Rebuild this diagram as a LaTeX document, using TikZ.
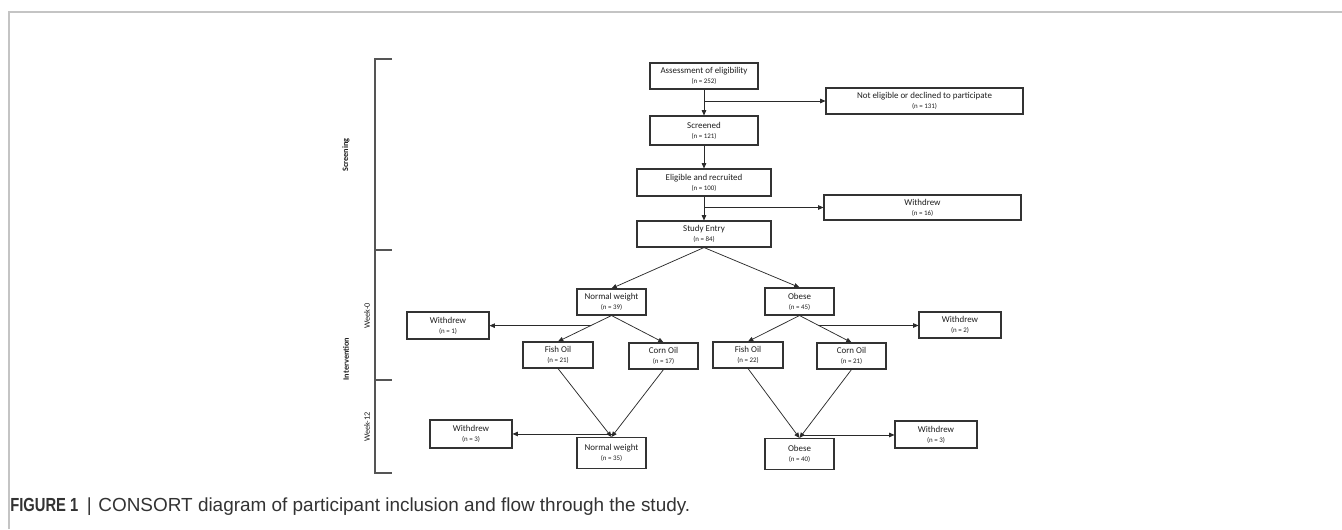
\documentclass[tikz,border=0pt]{standalone}
\usepackage{fontspec}
\setmainfont{Carlito}
\newfontfamily\capfont{Liberation Sans}
\usetikzlibrary{arrows.meta,calc}
\definecolor{boxc}{HTML}{333333}
\definecolor{linec}{HTML}{2A2A2A}
\definecolor{txtc}{HTML}{1E1E1E}
\definecolor{brkc}{HTML}{555555}
\definecolor{framec}{HTML}{C4C4C4}
\definecolor{capc}{HTML}{333333}
\newcommand\bt[2]{#1\\{\fontsize{5.2}{7.6}\selectfont (n = #2)}}
\begin{document}
\begin{tikzpicture}[x=0.75pt,y=-0.75pt,
  bx/.style 2 args={draw=boxc, line width=0.8pt, fill=white, inner sep=0pt, align=center, text=txtc,
     font=\fontsize{6.7}{7.6}\selectfont,
     minimum width=#1*0.75pt, minimum height=#2*0.75pt},
  arr/.style={draw=linec, line width=0.55pt, -{Triangle[length=4pt,width=3.4pt]}},
  brk/.style={draw=brkc, line width=0.9pt},
  sidelab/.style={rotate=90, inner sep=0pt, text=txtc, font=\fontsize{6.2}{7}\selectfont},
  sideboldlab/.style={sidelab, font=\bfseries\fontsize{6.2}{7}\selectfont},
]
\useasboundingbox (0,0) rectangle (1342,529);
\fill[white] (0,0) rectangle (1342,529);
% frame
\draw[framec, line width=1.1pt] (9,529) -- (9,12) -- (1342,12);

% bracket
\draw[brk] (392,59) -- (375,59) -- (375,473) -- (392,473);
\draw[brk] (375,250) -- (392,250);
\draw[brk] (375,380) -- (392,380);
\node[sideboldlab] (lscr) at (346,155) {Screening};
\node[sideboldlab] (lint) at (346,359) {Intervention};
\node[sidelab] (lw0) at (367,316) {Week-0};
\node[sidelab] (lw12) at (367,427) {Week-12};

% boxes
\node[bx={108}{26}] (assess) at (704,76) {\bt{Assessment of eligibility}{252}};
\node[bx={197}{26}] (ne) at (924.5,101) {\bt{Not eligible or declined to participate}{131}};
\node[bx={108}{29}] (scr) at (704,130.5) {\bt{Screened}{121}};
\node[bx={134}{27}] (elig) at (704,182.5) {\bt{Eligible and recruited}{100}};
\node[bx={197}{25}] (wd16) at (922.5,207.5) {\bt{Withdrew}{16}};
\node[bx={134}{26}] (entry) at (704,234) {\bt{Study Entry}{84}};
\node[bx={69}{26}] (nw) at (611.5,302) {\bt{Normal weight}{39}};
\node[bx={69}{27}] (ob) at (799.5,301.5) {\bt{Obese}{45}};
\node[bx={82}{27}] (wd1) at (448,325.5) {\bt{Withdrew}{1}};
\node[bx={82}{26}] (wd2) at (960,325) {\bt{Withdrew}{2}};
\node[bx={70}{26}] (fo1) at (558,355) {\bt{Fish Oil}{21}};
\node[bx={69}{26}] (co1) at (663.5,356) {\bt{Corn Oil}{17}};
\node[bx={70}{26}] (fo2) at (748,355) {\bt{Fish Oil}{22}};
\node[bx={69}{26}] (co2) at (851.5,356) {\bt{Corn Oil}{21}};
\node[bx={82}{28}] (wd3l) at (471,434) {\bt{Withdrew}{3}};
\node[bx={69}{31}] (nw2) at (611.5,453) {\bt{Normal weight}{35}};
\node[bx={69}{31}] (ob2) at (799.5,454) {\bt{Obese}{40}};
\node[bx={82}{27}] (wd3r) at (936,434.5) {\bt{Withdrew}{3}};

% connectors
\draw[arr] (assess) -- (scr);
\coordinate (b1) at (assess.south |- ne.west);
\draw[arr] (b1) -- (ne.west);
\draw[arr] (scr) -- (elig);
\draw[arr] (elig) -- (entry);
\coordinate (b2) at (elig.south |- wd16.west);
\draw[arr] (b2) -- (wd16.west);
\draw[arr] (entry.south) -- (nw.north);
\draw[arr] (entry.south) -- (ob.north);
\draw[arr] (nw.south) -- (fo1.north);
\draw[arr] (nw.south) -- (co1.north);
\draw[arr] (ob.south) -- (fo2.north);
\draw[arr] (ob.south) -- (co2.north);
\coordinate (b3) at ($(nw.south)!0.39!(fo1.north)$);
\draw[arr] (b3) -- (b3 -| wd1.east);
\coordinate (b4) at ($(ob.south)!0.37!(co2.north)$);
\draw[arr] (b4) -- (b4 -| wd2.west);
\draw[arr] (fo1.south) -- (nw2.north);
\draw[arr] (co1.south) -- (nw2.north);
\draw[arr] (fo2.south) -- (ob2.north);
\draw[arr] (co2.south) -- (ob2.north);
\coordinate (b5) at ($(nw2.north)+(0,-3)$);
\draw[arr] (b5) -- (b5 -| wd3l.east);
\coordinate (b6) at ($(ob2.north)+(0,-3)$);
\draw[arr] (b6) -- (b6 -| wd3r.west);

% caption
\node[anchor=west, inner sep=0pt, text=capc, font=\capfont\fontsize{14.2}{16}\selectfont] (cap) at (10,507)
  {\scalebox{0.78}[1]{\bfseries FIGURE 1}\hspace{0.45em}|\hspace{0.35em}CONSORT diagram of participant inclusion and flow through the study.};
\end{tikzpicture}
\end{document}
